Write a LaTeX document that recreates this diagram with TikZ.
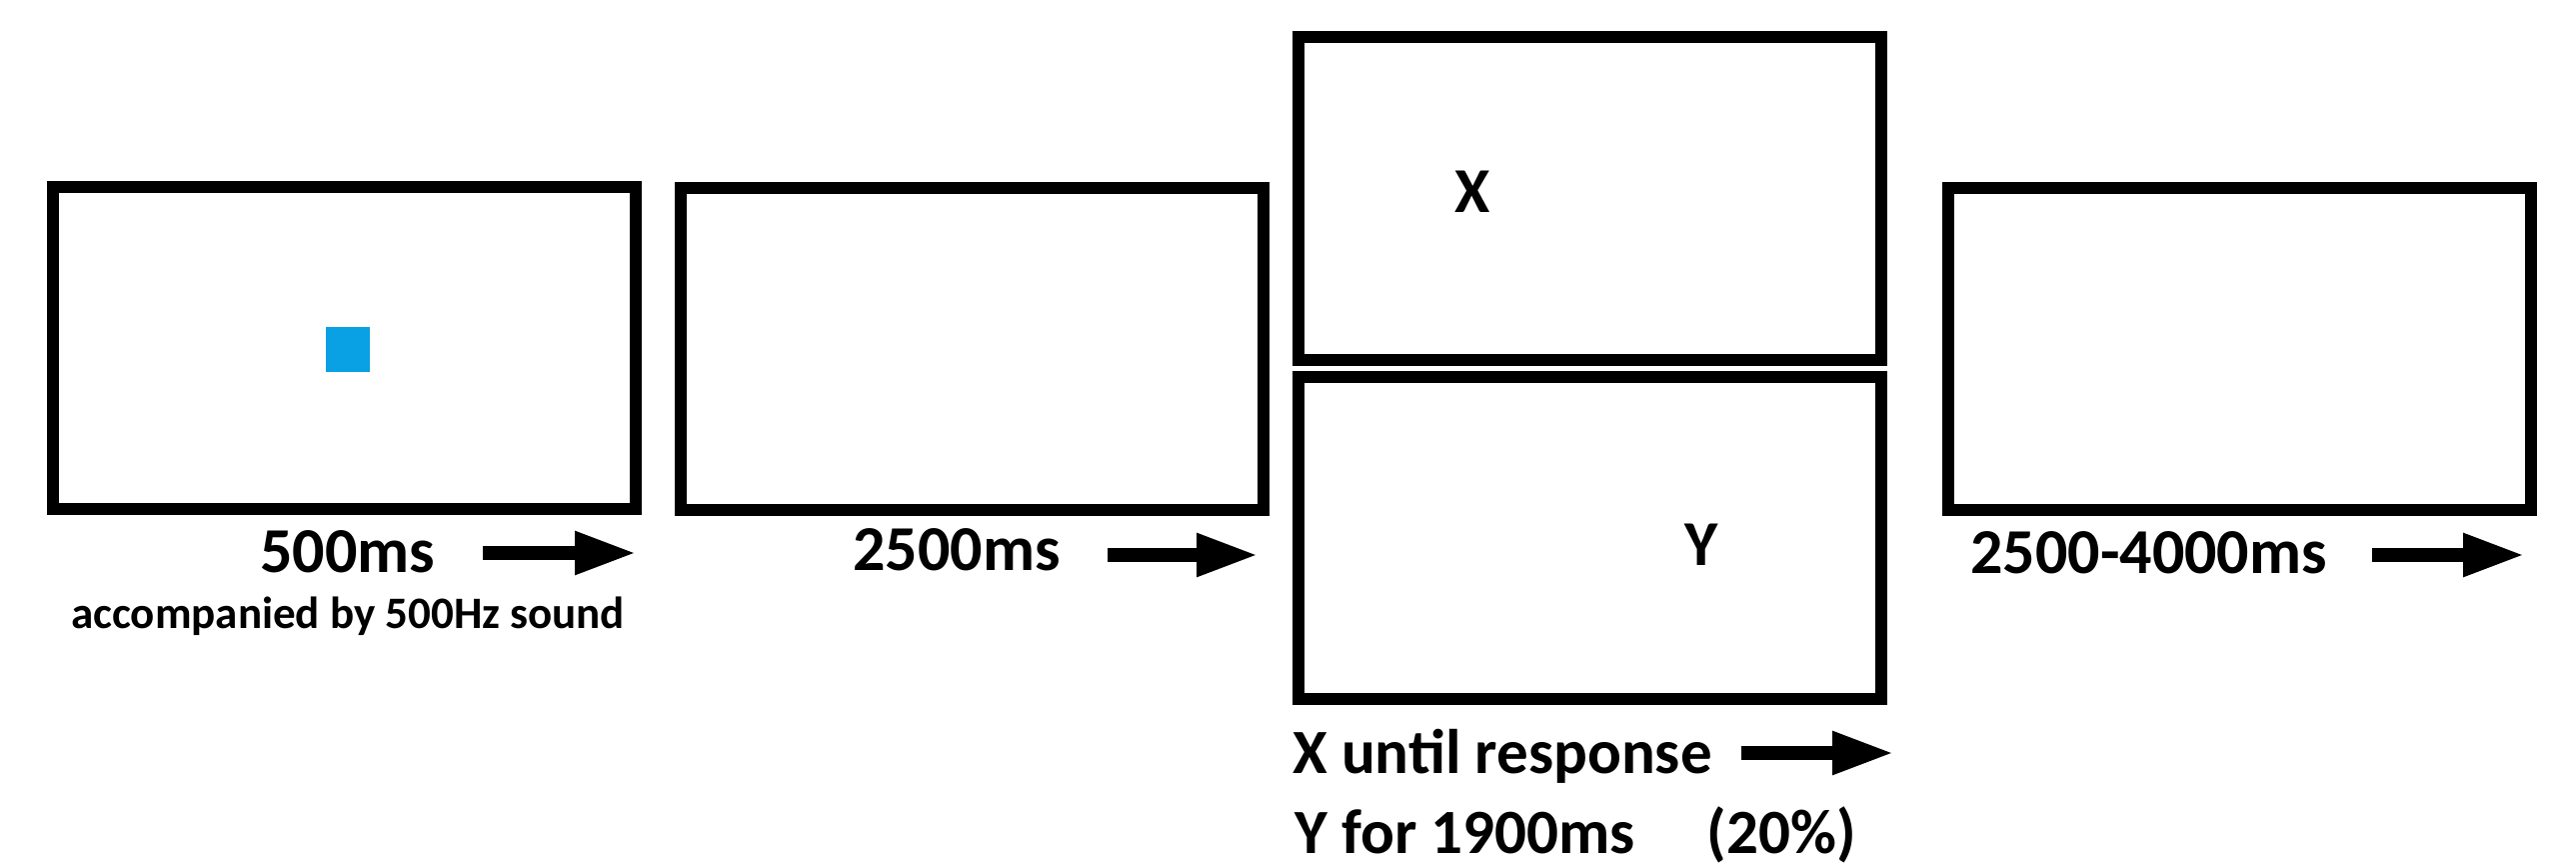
\documentclass[tikz,border=0pt]{standalone}
\usepackage{fontspec}
\setmainfont{Carlito}
\usetikzlibrary{arrows.meta}
\definecolor{cueblue}{RGB}{10,160,228}
\begin{document}
\begin{tikzpicture}[x=1pt,y=-1pt,
  screen/.style={draw=black, line width=12pt, minimum width=583pt, minimum height=322pt, inner sep=0pt, fill=white},
  lbl/.style={font=\fontsize{64}{70}\selectfont\bfseries, inner sep=0pt, anchor=base west},
  lblbig/.style={font=\fontsize{63}{70}\selectfont\bfseries, inner sep=0pt, anchor=base west},
  lblsmall/.style={font=\fontsize{45}{50}\selectfont\bfseries, inner sep=0pt, anchor=base west},
  letter/.style={font=\fontsize{64}{70}\selectfont\bfseries, inner sep=0pt, anchor=base},
  timearrow/.style={line width=14pt, -{Triangle[length=62pt,width=40pt]}}]
\useasboundingbox (0,0) rectangle (2577,864);
% screens
\node[screen] (s1) at (344.5,348) {};
\node[screen] (s2) at (972.5,348.5) {};
\node[screen] (s3a) at (1590,198.5) {};
\node[screen] (s3b) at (1590,538) {};
\node[screen] (s4) at (2240.5,348.5) {};
% contents
\node[fill=cueblue, minimum width=44pt, minimum height=45pt, inner sep=0pt] (cue) at (348,349.5) {};
\node[letter] (lx) at (1473,212) {X};
\node[letter] (ly) at (1702,565) {Y};
% labels
\node[lbl] (t1) at (260,572) {500ms};
\node[lblsmall] (t1b) at (71,628) {accompanied by 500Hz sound};
\node[lbl] (t2) at (853,570) {2500ms};
\node[lblbig] (t3a) at (1293,773) {X until response};
\node[lblbig] (t3b) at (1295,853) {Y for 1900ms\hspace{72pt}(20\%)};
\node[lbl] (t4) at (1971,573) {2500-4000ms};
% arrows
\coordinate (a1s) at (483,553); \coordinate (a1e) at (637,553);
\coordinate (a2s) at (1108,555); \coordinate (a2e) at (1259,555);
\coordinate (a3s) at (1742,753); \coordinate (a3e) at (1895,753);
\coordinate (a4s) at (2373,555); \coordinate (a4e) at (2526,555);
\draw[timearrow] (a1s) -- (a1e);
\draw[timearrow] (a2s) -- (a2e);
\draw[timearrow] (a3s) -- (a3e);
\draw[timearrow] (a4s) -- (a4e);
\end{tikzpicture}
\end{document}
